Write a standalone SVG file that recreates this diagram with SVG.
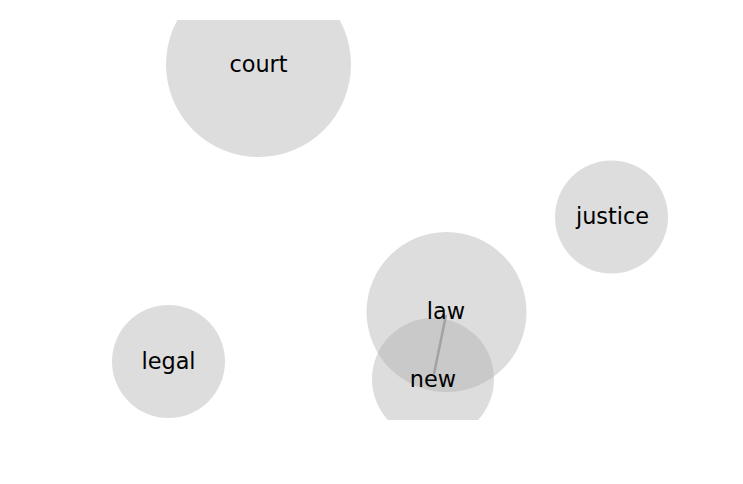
<svg xmlns="http://www.w3.org/2000/svg" width="743" height="484" viewBox="0 0 743 484">
<style>
.node circle{fill:#acacac;fill-opacity:0.41;}
.node text{font-family:"DejaVu Sans",sans-serif;font-size:22.4px;fill:#000;text-anchor:middle;}
.edge{stroke:#999;stroke-width:2.5;stroke-opacity:0.8;}
</style>
<defs><clipPath id="c"><rect x="0" y="20" width="743" height="400"/></clipPath></defs>
<rect width="743" height="484" fill="#fff"/>
<g clip-path="url(#c)">
<g id="node-court" class="node"><circle cx="258.5" cy="64.5" r="92.5"/></g>
<g id="node-justice" class="node"><circle cx="611.5" cy="217" r="56.5"/></g>
<g id="node-law" class="node"><circle cx="446.5" cy="312" r="80"/></g>
<g id="node-new" class="node"><circle cx="433" cy="379" r="61"/></g>
<g id="node-legal" class="node"><circle cx="168.5" cy="361.5" r="56.5"/></g>
<g id="connectors"><line class="edge" x1="446" y1="315" x2="434" y2="374"/></g>
<g class="node"><text x="258.5" y="71.5">court</text>
<text x="612.5" y="223.5">justice</text>
<text x="446" y="319">law</text>
<text x="433" y="386.5">new</text>
<text x="168.5" y="368.5">legal</text></g>
</g>
</svg>
